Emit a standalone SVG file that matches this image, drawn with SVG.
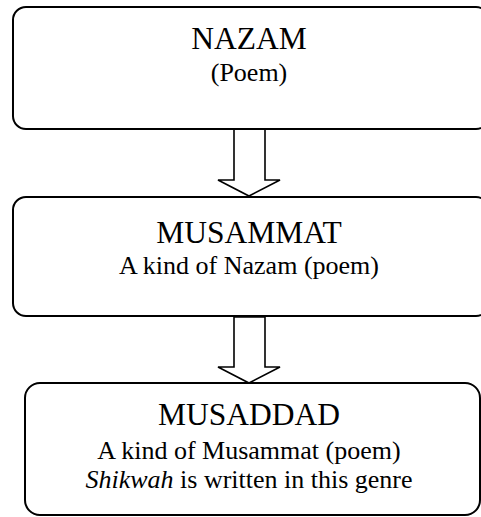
<svg xmlns="http://www.w3.org/2000/svg" width="481" height="517" viewBox="0 0 481 517">
<style>
.box{fill:#fff;stroke:#000;stroke-width:2}
.arr{fill:#fff;stroke:#000;stroke-width:1.6;stroke-linejoin:miter}
text{font-family:"Liberation Serif","Times New Roman",serif;fill:#000;text-anchor:middle}
.t{font-size:31.5px}
.s{font-size:26px}
</style>
<rect width="481" height="517" fill="#fff"/>
<g id="connectors">
<polygon class="arr" points="234,129 265,129 265,180 280,180 249,196 218,180 234,180"/>
<polygon class="arr" points="234,317 265,317 265,367 280,367 249,383 218,367 234,367"/>
</g>
<g id="nazam">
<rect class="box" x="13" y="7" width="476" height="122" rx="13"/>
<text class="t" x="249" y="49">NAZAM</text>
<text class="s" x="249" y="81">(Poem)</text>
</g>
<g id="musammat">
<rect class="box" x="13" y="197" width="476" height="119" rx="13"/>
<text class="t" x="249" y="243">MUSAMMAT</text>
<text class="s" x="249" y="274">A kind of Nazam (poem)</text>
</g>
<g id="musaddad">
<rect class="box" x="25" y="383" width="455" height="132" rx="15"/>
<text class="t" x="249" y="425">MUSADDAD</text>
<text class="s" x="249" y="459">A kind of Musammat (poem)</text>
<text class="s" x="249" y="488"><tspan font-style="italic">Shikwah</tspan> is written in this genre</text>
</g>
</svg>
